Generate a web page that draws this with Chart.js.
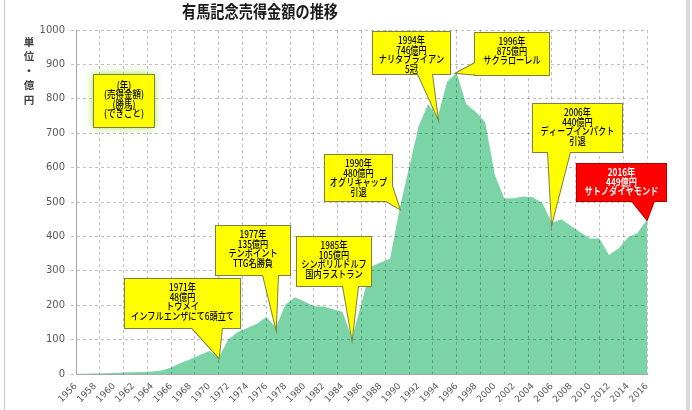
<!DOCTYPE html>
<html>
<head>
<meta charset="utf-8">
<script src="https://cdn.jsdelivr.net/npm/chart.js@4.4.1/dist/chart.umd.min.js"></script>
<style>
  html, body { margin: 0; padding: 0; background: #fff; }
  #wrap { width: 692px; height: 410px; }
</style>
</head>
<body>
<div id="wrap"><canvas id="chart" width="692" height="410"></canvas></div>
<script>
// 有馬記念 売得金 (億円)
const years = [
  1956, 1957, 1958, 1959, 1960, 1961, 1962, 1963, 1964, 1965,
  1966, 1967, 1968, 1969, 1970, 1971, 1972, 1973, 1974, 1975,
  1976, 1977, 1978, 1979, 1980, 1981, 1982, 1983, 1984, 1985,
  1986, 1987, 1988, 1989, 1990, 1991, 1992, 1993, 1994, 1995,
  1996, 1997, 1998, 1999, 2000, 2001, 2002, 2003, 2004, 2005,
  2006, 2007, 2008, 2009, 2010, 2011, 2012, 2013, 2014, 2015, 2016
];
const sales = [
  0.5, 1, 1.5, 2, 3, 4, 5, 6, 7, 10,
  19, 32, 43, 55, 67, 48, 100, 122, 134, 146,
  166, 135, 201, 223, 211, 197, 196, 188, 181, 105,
  205, 312, 324, 335, 480, 600, 720, 785, 746, 850,
  875, 785, 762, 732, 580, 510, 511, 516, 514, 497,
  440, 450, 430, 412, 394, 394, 346, 365, 397, 410, 449
];
const xTickYears = [
  1956, 1958, 1960, 1962, 1964, 1966, 1968, 1970, 1972, 1974, 1976,
  1978, 1980, 1982, 1984, 1986, 1988, 1990, 1992, 1994, 1996, 1998,
  2000, 2002, 2004, 2006, 2008, 2010, 2012, 2014, 2016
];
const yTicks = [0, 100, 200, 300, 400, 500, 600, 700, 800, 900, 1000];

const chartTitle = "有馬記念売得金額の推移";
const yTitle = ["単", "位", "・", "億", "円"];
const keyLines = ["(年)", "(売得金額)", "(勝馬)", "(できごと)"];

const noteYears = [1971, 1977, 1985, 1990, 1994, 1996, 2006, 2016];
const noteTexts = [
  ["1971年", "48億円", "トウメイ", "インフルエンザにて6頭立て"],
  ["1977年", "135億円", "テンポイント", "TTG名勝負"],
  ["1985年", "105億円", "シンボリルドルフ", "国内ラストラン"],
  ["1990年", "480億円", "オグリキャップ", "引退"],
  ["1994年", "746億円", "ナリタブライアン", "5冠"],
  ["1996年", "875億円", "サクラローレル"],
  ["2006年", "440億円", "ディープインパクト", "引退"],
  ["2016年", "449億円", "サトノダイヤモンド"]
];

// callout boxes: x, y, w, h and the points where the pointer leaves the box
const noteBoxes = [
  { box: [125, 279, 115, 49], base: [[192, 328], [222, 328]] },
  { box: [216, 226, 74, 49], base: [[263, 275], [278, 275]] },
  { box: [297, 237, 74, 49], base: [[343, 286], [358, 286]] },
  { box: [325, 155, 67, 46], base: [[392, 186], [392, 201], [386, 201]] },
  { box: [373, 32, 77, 42], base: [[418, 74], [432, 74]] },
  { box: [475, 33, 74, 42], base: [[475, 63], [475, 75], [481, 75]] },
  { box: [533, 104, 89, 48], base: [[548, 152], [570, 152]] },
  { box: [577, 164, 89, 37], base: [[632, 201], [654, 201]], red: true }
];

const gridColor = "rgba(0,0,0,0.25)";
const textFont = '"Noto Sans CJK JP", sans-serif';

function drawLines(ctx, lines, cx, y0, step, squeeze) {
  lines.forEach((t, i) => {
    const w = ctx.measureText(t).width;
    ctx.fillText(t, cx, y0 + i * step, w * squeeze);
  });
}

const notesPlugin = {
  id: "notes",
  beforeDraw(chart) {
    const ctx = chart.ctx;
    ctx.save();
    ctx.fillStyle = "#fff";
    ctx.fillRect(0, 0, chart.width, chart.height);
    ctx.restore();
  },
  afterDraw(chart) {
    const ctx = chart.ctx;
    const xs = chart.scales.x, ys = chart.scales.y;
    ctx.save();

    // frame
    ctx.strokeStyle = "#c8c8c8";
    ctx.lineWidth = 1;
    ctx.beginPath();
    ctx.moveTo(4.5, 0);
    ctx.lineTo(4.5, 410);
    ctx.stroke();
    ctx.fillStyle = "#d9d9d9";
    ctx.fillRect(686, 0, 4, 410);

    // title
    ctx.fillStyle = "#1a1a1a";
    ctx.textAlign = "center";
    ctx.textBaseline = "middle";
    ctx.font = "bold 17px " + textFont;
    ctx.fillText(chartTitle, 260, 12, 156);

    // y axis title
    ctx.font = "bold 10.5px " + textFont;
    ctx.fillStyle = "#404040";
    yTitle.forEach((c, i) => ctx.fillText(c, 29, 42 + i * 14.5));

    // key box
    ctx.save();
    ctx.shadowColor = "rgba(150,220,60,0.9)";
    ctx.shadowBlur = 8;
    ctx.fillStyle = "#ffff00";
    ctx.fillRect(93, 74, 61, 53);
    ctx.restore();
    ctx.strokeStyle = "#7f7f3f";
    ctx.lineWidth = 1;
    ctx.strokeRect(93.5, 74.5, 61, 53);
    ctx.fillStyle = "#000";
    ctx.font = "500 10px " + textFont;
    drawLines(ctx, keyLines, 124, 85, 9.4, 0.85);

    // callouts
    noteBoxes.forEach((nb, i) => {
      const yr = noteYears[i];
      const tip = [xs.getPixelForValue(yr), ys.getPixelForValue(sales[years.indexOf(yr)])];
      const [bx, by, bw, bh] = nb.box;
      const fill = nb.red ? "#ff0000" : "#ffff00";
      const edge = nb.red ? "#b00000" : "#7f7f3f";

      const boxPath = new Path2D();
      boxPath.rect(bx, by, bw, bh);
      const tri = new Path2D();
      tri.moveTo(tip[0], tip[1]);
      nb.base.forEach(p => tri.lineTo(p[0], p[1]));
      tri.closePath();

      ctx.lineWidth = 2;
      ctx.strokeStyle = edge;
      ctx.stroke(boxPath);
      ctx.stroke(tri);
      ctx.fillStyle = fill;
      ctx.fill(boxPath);
      ctx.fill(tri);

      ctx.fillStyle = nb.red ? "#fff" : "#000";
      ctx.font = (nb.red ? "bold" : "500") + " 10px " + textFont;
      drawLines(ctx, noteTexts[i], bx + bw / 2, by + 8.5, 9.5, 0.82);
    });

    ctx.restore();
  }
};

new Chart(document.getElementById("chart"), {
  type: "line",
  data: {
    datasets: [{
      label: "売得金額",
      data: years.map((y, i) => ({ x: y, y: sales[i] })),
      fill: "origin",
      backgroundColor: "#7bd4a5",
      borderColor: "rgba(0,0,0,0)",
      borderWidth: 0,
      pointRadius: 0,
      tension: 0
    }]
  },
  options: {
    responsive: false,
    devicePixelRatio: 1,
    animation: false,
    layout: { padding: { left: 0, right: 45, top: 30, bottom: 0 } },
    plugins: {
      legend: { display: false },
      tooltip: { enabled: false },
      title: { display: false }
    },
    scales: {
      x: {
        type: "linear",
        position: "bottom",
        min: 1956,
        max: 2016,
        afterBuildTicks: s => { s.ticks = xTickYears.map(v => ({ value: v })); },
        afterFit: s => { s.height = 36; },
        grid: { display: false, drawTicks: false },
        border: { display: true, color: "#a6a6a6", width: 1, z: 2 },
        ticks: {
          minRotation: 45,
          maxRotation: 45,
          autoSkip: false,
          padding: 7,
          color: "#595959",
          font: { family: "DejaVu Sans", size: 9 },
          callback: v => String(v)
        }
      },
      xg: {
        type: "linear",
        position: "top",
        min: 1956,
        max: 2016,
        afterFit: s => { s.height = 0; },
        ticks: { display: false, stepSize: 2.5 },
        border: { display: false, dash: [3, 3] },
        grid: {
          z: 1,
          drawTicks: false,
          color: c => (c.tick && c.tick.value === 1956 ? "rgba(0,0,0,0)" : gridColor),
          lineWidth: 1
        }
      },
      y: {
        min: 0,
        max: 1000,
        afterBuildTicks: s => { s.ticks = yTicks.map(v => ({ value: v })); },
        afterFit: s => { s.width = 76; },
        border: { display: true, color: "#a6a6a6", width: 1, z: 2, dash: [3, 3] },
        grid: {
          z: 1,
          tickLength: 5,
          tickBorderDash: [3, 3],
          color: c => (c.tick && c.tick.value === 0 ? "rgba(0,0,0,0)" : gridColor),
          tickColor: gridColor,
          lineWidth: 1
        },
        ticks: {
          padding: 6,
          color: "#595959",
          font: { family: "DejaVu Sans", size: 10 },
          callback: v => String(v)
        }
      }
    }
  },
  plugins: [notesPlugin]
});
</script>
</body>
</html>
